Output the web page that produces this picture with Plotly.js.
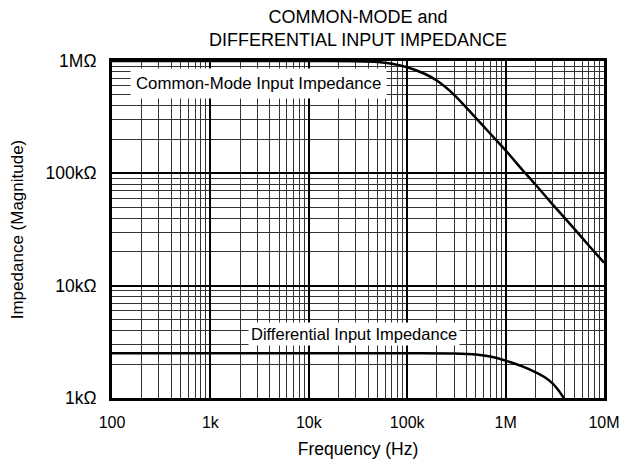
<!DOCTYPE html>
<html>
<head>
<meta charset="utf-8">
<script src="https://cdn.plot.ly/plotly-3.0.1.min.js"></script>
<style>
  html, body { margin: 0; padding: 0; background: #fff; }
  #chart { width: 629px; height: 461px; }
</style>
</head>
<body>
<div id="chart"></div>
<script>
// Common-mode input impedance (Hz, Ohm)
const cmFreq = [100, 1e3, 1e4, 3e4, 5e4, 7e4, 1e5, 1.5e5, 2e5, 3e5, 5e5, 7e5, 1e6, 1.5e6, 2e6, 3e6, 5e6, 7e6, 1e7];
const cmZ    = [1e6, 1e6, 1e6, 0.995e6, 0.98e6, 0.945e6, 0.88e6, 0.77e6, 0.67e6, 0.5e6, 0.31e6, 0.225e6, 0.16e6, 0.106e6, 0.08e6, 0.053e6, 0.032e6, 0.0228e6, 0.016e6];

// Differential input impedance (Hz, Ohm)
const diffFreq = [100, 1e3, 1e4, 1e5, 3e5, 5e5, 7e5, 1e6, 1.5e6, 2e6, 2.5e6, 3e6, 3.5e6, 3.9e6];
const diffZ    = [2500, 2500, 2500, 2500, 2490, 2440, 2340, 2150, 1900, 1700, 1530, 1350, 1150, 1000];

// Axis ticks
const xTickVals = [100, 1e3, 1e4, 1e5, 1e6, 1e7];
const xTickText = ['100', '1k', '10k', '100k', '1M', '10M'];
const yTickVals = [1e3, 1e4, 1e5, 1e6];
const yTickText = ['1k\u03A9', '10k\u03A9', '100k\u03A9', '1M\u03A9'];
const mult = [2, 3, 4, 5, 6, 7, 8, 9];

function minorVals(decades) {
  const out = [];
  decades.forEach(d => mult.forEach(m => out.push(d * m)));
  return out;
}
const xMinor = minorVals([100, 1e3, 1e4, 1e5, 1e6]);
const yMinor = minorVals([1e3, 1e4, 1e5]);

const FONT = 'Liberation Sans, Arial, Helvetica, sans-serif';

const traces = [
  { x: cmFreq, y: cmZ, type: 'scatter', mode: 'lines',
    line: { color: '#000', width: 2.5, shape: 'spline', smoothing: 0.8 }, hoverinfo: 'skip' },
  { x: diffFreq, y: diffZ, type: 'scatter', mode: 'lines',
    line: { color: '#000', width: 2.5, shape: 'spline', smoothing: 0.8 }, hoverinfo: 'skip' }
];

const layout = {
  width: 629, height: 461,
  margin: { l: 112, r: 25, t: 61, b: 63 },
  paper_bgcolor: '#fff', plot_bgcolor: '#fff',
  showlegend: false,
  font: { family: FONT, color: '#000', size: 16 },
  title: {
    text: 'COMMON-MODE and<br>DIFFERENTIAL INPUT IMPEDANCE',
    font: { family: FONT, size: 18, color: '#000' },
    x: 0.5, xref: 'paper', xanchor: 'center',
    y: 1 - 23 / 461, yref: 'container', yanchor: 'bottom'
  },
  xaxis: {
    type: 'log', range: [2, 7],
    tickmode: 'array', tickvals: xTickVals, ticktext: xTickText,
    ticks: '', ticklabelstandoff: 8,
    tickfont: { family: FONT, size: 16, color: '#000' },
    showgrid: true, gridcolor: '#000', gridwidth: 2,
    showline: true, mirror: true, linecolor: '#000', linewidth: 3,
    zeroline: false,
    minor: { tickmode: 'array', tickvals: xMinor, showgrid: true, gridcolor: '#333', gridwidth: 1, ticks: '' },
    title: { text: 'Frequency (Hz)', font: { family: FONT, size: 17.5, color: '#000' }, standoff: 13 }
  },
  yaxis: {
    type: 'log', range: [3, 6],
    tickmode: 'array', tickvals: yTickVals, ticktext: yTickText,
    ticks: '', ticklabelstandoff: 9,
    tickfont: { family: FONT, size: 17.5, color: '#000' },
    showgrid: true, gridcolor: '#000', gridwidth: 2,
    showline: true, mirror: true, linecolor: '#000', linewidth: 3,
    zeroline: false,
    minor: { tickmode: 'array', tickvals: yMinor, showgrid: true, gridcolor: '#333', gridwidth: 1, ticks: '' },
    title: { text: 'Impedance (Magnitude)', font: { family: FONT, size: 17, color: '#000' }, standoff: 18 }
  },
  annotations: [
    { text: 'Common-Mode Input Impedance', xref: 'x', yref: 'y',
      x: Math.log10(3070), y: Math.log10(635000), showarrow: false,
      font: { family: FONT, size: 16.8, color: '#000' },
      bgcolor: '#fff', borderpad: 5, xanchor: 'center', yanchor: 'middle' },
    { text: 'Differential Input Impedance', xref: 'x', yref: 'y',
      x: Math.log10(29000), y: Math.log10(3720), showarrow: false,
      font: { family: FONT, size: 16.5, color: '#000' },
      bgcolor: '#fff', borderpad: 2, xanchor: 'center', yanchor: 'middle' }
  ]
};

Plotly.newPlot('chart', traces, layout, { displayModeBar: false, staticPlot: true });
</script>
</body>
</html>
